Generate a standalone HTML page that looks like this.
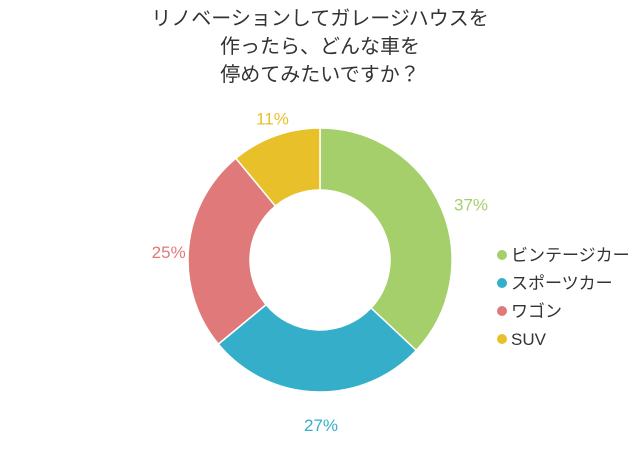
<!DOCTYPE html>
<html><head><meta charset="utf-8"><style>
body{margin:0;background:#fff;width:640px;height:451px;overflow:hidden;font-family:"Liberation Sans","Noto Sans CJK JP",sans-serif}
</style></head><body>
<svg width="640" height="451">
<g font-size="20" fill="#333" text-anchor="middle">
<text x="320" y="25">リノベーションしてガレージハウスを</text>
<text x="320" y="53">作ったら、どんな車を</text>
<text x="320" y="81">停めてみたいですか？</text>
</g>
<g id="slices"></g>
<g id="labels" font-size="17"></g>
<g id="legend" font-size="17" fill="#333"></g>
</svg>
<script>
const categories=["ビンテージカー","スポーツカー","ワゴン","SUV"];
const values=[37,27,25,11];
const colors=["#a5cf6a","#35afc9","#e07a7a","#e8c12a"];
const cx=320,cy=260,R=132,r=70,LR=158;
const ns="http://www.w3.org/2000/svg";
const total=values.reduce((a,b)=>a+b,0);
let a0=-Math.PI/2;
const sg=document.getElementById('slices'),lg=document.getElementById('labels'),leg=document.getElementById('legend');
values.forEach((v,i)=>{
 const a1=a0+v/total*2*Math.PI;
 const large=(a1-a0)>Math.PI?1:0;
 const p=(a,rad)=>[cx+rad*Math.cos(a),cy+rad*Math.sin(a)];
 const [x0,y0]=p(a0,R),[x1,y1]=p(a1,R),[x2,y2]=p(a1,r),[x3,y3]=p(a0,r);
 const path=document.createElementNS(ns,'path');
 path.setAttribute('d',`M${x0},${y0}A${R},${R} 0 ${large} 1 ${x1},${y1}L${x2},${y2}A${r},${r} 0 ${large} 0 ${x3},${y3}Z`);
 path.setAttribute('fill',colors[i]);path.setAttribute('stroke','#fff');path.setAttribute('stroke-width','1.5');
 
 
 sg.appendChild(path);
 const am=(a0+a1)/2;const [lx,ly]=p(am,LR);
 const t=document.createElementNS(ns,'text');
 t.setAttribute('x',lx+6);t.setAttribute('y',ly+13);t.setAttribute('text-anchor','middle');t.setAttribute('fill',colors[i]);
 t.textContent=v+'%';
 
 
 lg.appendChild(t);
 const g=document.createElementNS(ns,'g');
 
 
 const c=document.createElementNS(ns,'circle');
 c.setAttribute('cx',502);c.setAttribute('cy',255+i*28);c.setAttribute('r',5);c.setAttribute('fill',colors[i]);
 const lt=document.createElementNS(ns,'text');
 lt.setAttribute('x',511);lt.setAttribute('y',261+i*28);lt.textContent=categories[i];
 g.appendChild(c);g.appendChild(lt);leg.appendChild(g);
 a0=a1;
});
</script>
</body></html>
